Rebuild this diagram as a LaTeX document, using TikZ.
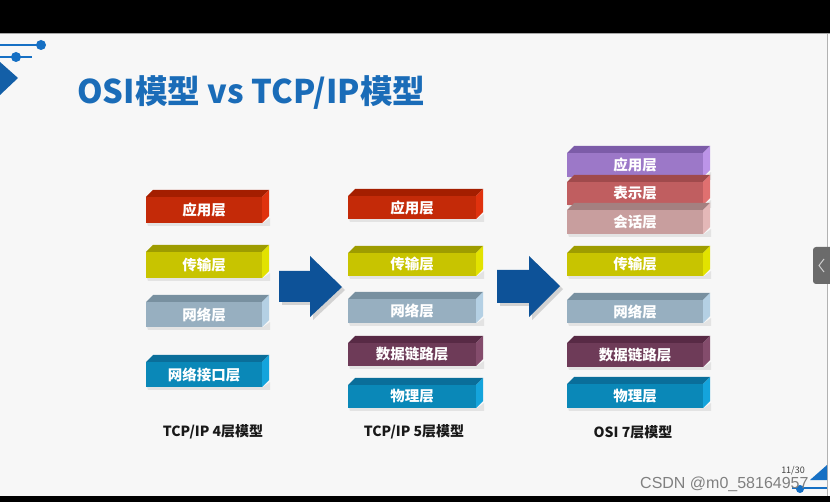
\documentclass[tikz,border=0pt]{standalone}
\usepackage{fontspec}
\setmainfont{Noto Sans CJK SC}
\newfontfamily\wmfont{Liberation Sans}
\definecolor{bg}{HTML}{F7F7F7}
\definecolor{titleblue}{HTML}{1A6CB8}
\definecolor{arrblue}{HTML}{0D5298}
\definecolor{decoblue}{HTML}{1670C4}
\definecolor{rF}{HTML}{C42A08}\definecolor{rT}{HTML}{A41E00}\definecolor{rS}{HTML}{E0320E}
\definecolor{yF}{HTML}{C8C400}\definecolor{yT}{HTML}{9E9C00}\definecolor{yS}{HTML}{E2E200}
\definecolor{gF}{HTML}{97AFC0}\definecolor{gT}{HTML}{7890A0}\definecolor{gS}{HTML}{B4D0E4}
\definecolor{bF}{HTML}{0A88B8}\definecolor{bT}{HTML}{0A6E9A}\definecolor{bS}{HTML}{14A4DC}
\definecolor{mF}{HTML}{6E3B58}\definecolor{mT}{HTML}{582A45}\definecolor{mS}{HTML}{844C6C}
\definecolor{pF}{HTML}{9C78C8}\definecolor{pT}{HTML}{7C5CA8}\definecolor{pS}{HTML}{BC94E8}
\definecolor{sF}{HTML}{C05E60}\definecolor{sT}{HTML}{A04A4C}\definecolor{sS}{HTML}{E07070}
\definecolor{kF}{HTML}{C89E9E}\definecolor{kT}{HTML}{A48080}\definecolor{kS}{HTML}{E4B8B8}
\tikzset{
  lay/.style={inner sep=0pt, text=white, font=\bfseries\fontsize{14.5}{14.5}\selectfont},
  modlabel/.style={inner sep=0pt, text=black!90, font=\bfseries\fontsize{14}{14}\selectfont},
  blockarrow/.style={fill=arrblue},
}
\newcommand\lyr[9]{%
  \pgfmathsetmacro\lw{#4-#2}\pgfmathsetmacro\lh{#5-#3}%
  \pgfmathsetmacro\cx{(#2+#4)/2}\pgfmathsetmacro\cy{(#3+#5)/2}%
  \fill[black, opacity=0.08] (#2+1,#5) -- (#4+1,#5) -- (#4+8,#5-5) -- (#4+8,#5+3) -- (#2+2,#5+3) -- cycle;
  \fill[#7] (#2,#3) -- (#2+7,#3-7) -- (#4+7,#3-7) -- (#4,#3) -- cycle;
  \fill[#8] (#4,#3) -- (#4+7,#3-7) -- (#4+7,#5-7) -- (#4,#5) -- cycle;
  \node[lay, fill=#6, minimum width=\lw pt, minimum height=\lh pt] (#1) at (\cx,\cy) {#9};
}
\begin{document}
\begin{tikzpicture}[x=1pt,y=-1pt]
\useasboundingbox (0,0) rectangle (830,502);
% background and frame
\fill[bg] (0,0) rectangle (830,502);
\fill[black] (0,0) rectangle (830,33);
\draw[black!35, line width=0.8pt] (0,33.5) -- (830,33.5);
\fill[black] (0,496) rectangle (830,502);
\fill[white] (827,34) rectangle (830,496);
\draw[black!30, line width=0.8pt] (827,34) -- (827,496);
% top-left decoration
\draw[decoblue, line width=1.6pt] (0,45) -- (40,45);
\fill[decoblue] (41,45) circle (5);
\draw[decoblue, line width=1.6pt] (0,57) -- (32,57);
\fill[decoblue] (16,57) circle (5);
\fill[decoblue!85!black] (0,62) -- (18,78) -- (0,95) -- cycle;
% title
\node[anchor=west, inner sep=0pt, text=titleblue, font=\bfseries\fontsize{32.6}{32.6}\selectfont] (title) at (77,93) {OSI模型 vs TCP/IP模型};
% column 1: TCP/IP 4
\lyr{a1}{146}{197}{262}{223}{rF}{rT}{rS}{应用层}
\lyr{a2}{146}{252}{262}{278}{yF}{yT}{yS}{传输层}
\lyr{a3}{146}{302}{262}{327}{gF}{gT}{gS}{网络层}
\lyr{a4}{146}{362}{262}{387}{bF}{bT}{bS}{网络接口层}
% column 2: TCP/IP 5
\lyr{b1}{348}{196}{476}{219}{rF}{rT}{rS}{应用层}
\lyr{b2}{348}{253}{476}{276}{yF}{yT}{yS}{传输层}
\lyr{b3}{348}{299}{476}{323}{gF}{gT}{gS}{网络层}
\lyr{b4}{348}{343}{476}{366}{mF}{mT}{mS}{数据链路层}
\lyr{b5}{348}{385}{476}{408}{bF}{bT}{bS}{物理层}
% column 3: OSI 7
\lyr{c1}{567}{153}{703}{177}{pF}{pT}{pS}{应用层}
\lyr{c2}{567}{182}{703}{205}{sF}{sT}{sS}{表示层}
\lyr{c3}{567}{210}{703}{234}{kF}{kT}{kS}{会话层}
\lyr{c4}{567}{253}{703}{276}{yF}{yT}{yS}{传输层}
\lyr{c5}{567}{300}{703}{323}{gF}{gT}{gS}{网络层}
\lyr{c6}{567}{343}{703}{367}{mF}{mT}{mS}{数据链路层}
\lyr{c7}{567}{384}{703}{408}{bF}{bT}{bS}{物理层}
% block arrows
\fill[black, opacity=0.15] (282,274) -- (313,274) -- (313,259) -- (345,290) -- (313,320) -- (313,305) -- (282,305) -- cycle;
\fill[blockarrow] (279,271) -- (310,271) -- (310,256) -- (342,287) -- (310,317) -- (310,302) -- (279,302) -- cycle;
\fill[black, opacity=0.15] (500,273) -- (532,273) -- (532,259) -- (563,289) -- (532,320) -- (532,306) -- (500,306) -- cycle;
\fill[blockarrow] (497,270) -- (529,270) -- (529,256) -- (560,286) -- (529,317) -- (529,303) -- (497,303) -- cycle;
% model labels
\node[modlabel] (l1) at (213,432) {TCP/IP 4层模型};
\node[modlabel] (l2) at (414,432) {TCP/IP 5层模型};
\node[modlabel] (l3) at (633,432) {OSI 7层模型};
% right side tab
\fill[black!58, rounded corners=3pt] (813,247) rectangle (836,284);
\draw[black!20, line width=1pt] (824,259) -- (819,265.5) -- (824,272);
% bottom-right decoration
\fill[decoblue] (810,480) -- (827,465) -- (827,480) -- cycle;
\draw[decoblue, line width=1.2pt] (792,488) -- (827,488);
\fill[decoblue] (800,489) circle (4);
\node[inner sep=0pt, text=black!75, font=\fontsize{9}{9}\selectfont] (page) at (793,471) {11/30};
\node[anchor=west, inner sep=0pt, text=black!50, font=\wmfont\fontsize{16}{16}\selectfont] (wm) at (640,484) {CSDN @m0\_58164957};
\end{tikzpicture}
\end{document}
